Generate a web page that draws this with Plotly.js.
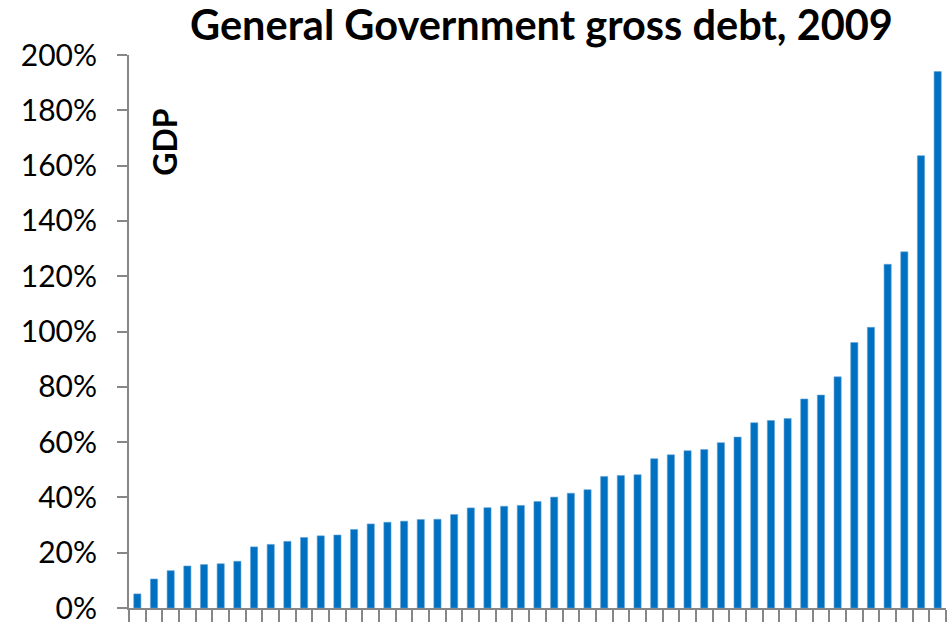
<!DOCTYPE html>
<html><head><meta charset="utf-8">
<script src="https://cdn.plot.ly/plotly-3.0.1.min.js"></script>
<style>html,body{margin:0;padding:0;background:#fff}#chart{width:949px;height:623px}</style>
</head><body><div id="chart"></div>
<script>
const countries = Array.from({length: 49}, (_, i) => 'C' + (i + 1));
const debtPct = [5.1, 10.5, 13.5, 15.2, 15.7, 16.0, 16.9, 22.1, 23.0, 24.1, 25.5, 26.1, 26.4, 28.4, 30.4, 31.0,
  31.4, 32.0, 32.1, 33.8, 36.2, 36.3, 36.8, 37.1, 38.5, 40.1, 41.5, 42.8, 47.6, 47.9, 48.2, 54.0,
  55.4, 56.9, 57.3, 59.8, 61.8, 67.0, 67.8, 68.5, 75.6, 77.0, 83.6, 96.0, 101.5, 124.3, 128.8, 163.6, 194.0];
const yTicks = [0, 20, 40, 60, 80, 100, 120, 140, 160, 180, 200];
const yTickText = yTicks.map(v => v + '%');

const font = 'Lato, "Open Sans", sans-serif';
Plotly.newPlot('chart', [{
  type: 'bar', x: countries, y: debtPct,
  marker: {color: '#0070C0', line: {color: '#5FA2D8', width: 0.6}},
  hoverinfo: 'y'
}], {
  width: 949, height: 623,
  margin: {l: 129, r: 3, t: 55, b: 15},
  paper_bgcolor: '#fff', plot_bgcolor: '#fff',
  bargap: 0.57,
  showlegend: false,
  title: {text: '<b>General Government gross debt, 2009</b>', font: {family: font, size: 41.5, color: '#000'}, x: 0.5706, xanchor: 'center', y: 0.982, yanchor: 'top'},
  xaxis: {type: 'category', showticklabels: false, showline: true, linecolor: '#878787', linewidth: 2,
    ticks: 'outside', tickson: 'boundaries', ticklen: 12, tickcolor: '#878787', tickwidth: 2, showgrid: false, zeroline: false},
  yaxis: {range: [0, 200], tickvals: yTicks, ticktext: yTickText, showline: true, linecolor: '#878787', linewidth: 2,
    ticks: 'outside', ticklen: 10, tickcolor: '#878787', tickwidth: 2, showgrid: false, zeroline: false,
    tickfont: {family: font, size: 30, color: '#000'}, ticklabelstandoff: 14, ticklabeloverflow: 'allow'},
  annotations: [{text: '<b>GDP</b>', textangle: -90, xref: 'paper', yref: 'paper', x: 0.044, y: 0.843, showarrow: false,
    font: {family: font, size: 32, color: '#000'}, xanchor: 'center', yanchor: 'middle'}]
}, {displayModeBar: false, staticPlot: true});
</script></body></html>
